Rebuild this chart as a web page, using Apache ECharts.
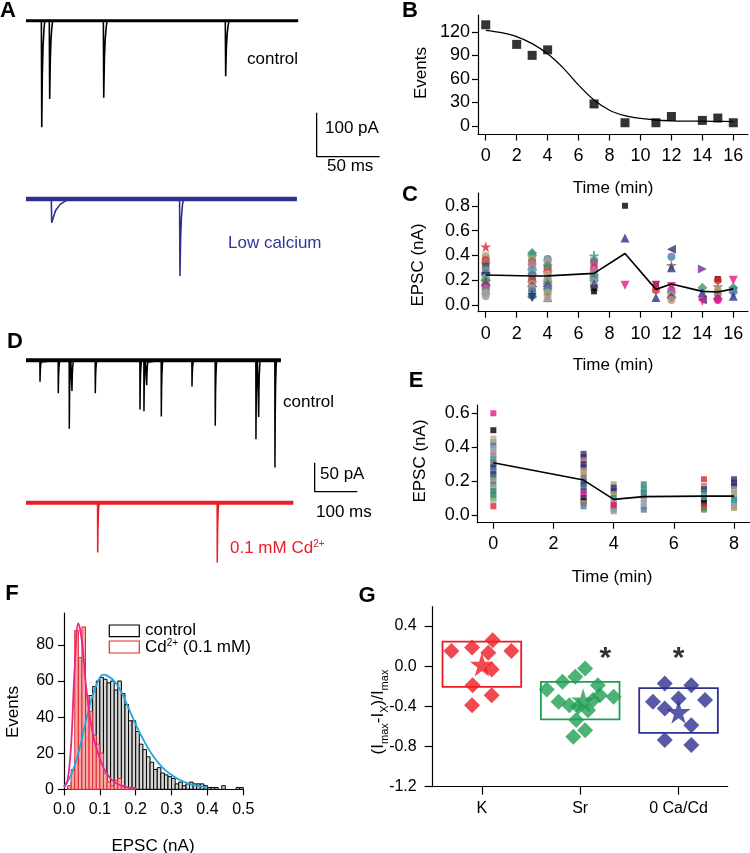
<!DOCTYPE html>
<html><head><meta charset="utf-8">
<script src="https://cdn.jsdelivr.net/npm/echarts@6/dist/echarts.min.js"></script>
<style>html,body{margin:0;padding:0;background:#fff}#c{width:750px;height:853px}</style>
</head><body><div id="c"></div><script>
// ================= DATA =================
// Panel A: spontaneous events (time ms, amplitude pA, decay ms)
const aControlTimes = [12.5, 18.8, 61.7, 158.5];
const aControlAmps = [242, 178, 175, 126];
const aControlDecays = [0.8, 0.8, 0.9, 0.9];
const aControlDuration = 216;
const aLowCaTimes = [20.4, 122.2];
const aLowCaAmps = [54, 175];
const aLowCaDecays = [5, 0.9];
const aLowCaDuration = 215;
const aScaleBar = [100, 50]; // pA, ms

// Panel D
const dControlTimes = [32.8, 75.6, 101.4, 107.7, 162.3, 267.0, 276.3, 282.7, 316.9, 388.8, 443.3, 538.6, 545.0, 583.1];
const dControlAmps = [37, 57, 118, 53, 57, 85, 88, 43, 97, 45, 113, 136, 98, 185];
const dControlDecays = [1.2, 1.2, 1.2, 1.2, 1.2, 1.2, 1.2, 1.2, 1.2, 1.2, 1.2, 1.2, 1.2, 1.2];
const dControlDuration = 597;
const dCdTimes = [167.9, 448.0];
const dCdAmps = [86, 103];
const dCdDecays = [1.2, 1.2];
const dCdDuration = 626;
const dScaleBar = [50, 100]; // pA, ms

// Panel B
const bTime = [0, 2, 3, 4, 7, 9, 11, 12, 14, 15, 16];
const bEvents = [129, 104, 90, 97, 28, 4, 4, 12, 7, 10, 4];
const bFitTime = [0, 1, 2, 3, 4, 5, 6, 7, 8, 9, 10, 11, 12, 13, 14, 15, 16];
const bFit = [122, 119, 114, 105, 92, 74, 52, 33, 20, 13, 9.5, 7.5, 6.5, 6, 6, 5.8, 5.5];
const bXTicks = [0, 2, 4, 6, 8, 10, 12, 14, 16];
const bYTicks = [0, 30, 60, 90, 120];

// Panel C (value nA, recorded cell id)
const cTimes = [0, 3, 4, 7, 9, 11, 12, 14, 15, 16];
const cValues = [
  [0.47,0.40,0.38,0.36,0.34,0.33,0.31,0.30,0.28,0.27,0.26,0.25,0.24,0.23,0.22,0.21,0.20,0.19,0.18,0.17,0.16,0.15,0.13,0.12,0.10,0.09,0.07],
  [0.42,0.40,0.37,0.35,0.33,0.31,0.29,0.28,0.26,0.25,0.24,0.22,0.21,0.20,0.18,0.17,0.15,0.14,0.12,0.11,0.09,0.07,0.06],
  [0.37,0.36,0.34,0.32,0.30,0.29,0.27,0.26,0.25,0.23,0.21,0.20,0.18,0.17,0.15,0.13,0.12,0.10,0.08,0.06,0.05],
  [0.40,0.36,0.34,0.30,0.28,0.26,0.24,0.22,0.20,0.19,0.17,0.15,0.13,0.11],
  [0.80,0.54,0.16],
  [0.17,0.16,0.12,0.06],
  [0.45,0.39,0.32,0.30,0.15,0.12,0.10,0.08,0.06,0.04],
  [0.29,0.14,0.10,0.04,0.03],
  [0.21,0.20,0.15,0.12,0.09,0.05,0.04],
  [0.20,0.14,0.12,0.10,0.07]
];
const cCells = [
  [15,13,1,3,7,20,12,6,25,22,8,2,19,4,0,21,10,5,14,26,24,9,23,6,1,21,0],
  [2,10,1,20,7,25,21,8,13,19,6,0,22,3,5,1,24,0,23,6,14,2,4],
  [6,21,1,19,26,20,7,3,13,22,25,0,5,10,24,8,6,1,23,14,13],
  [16,6,20,9,7,25,19,10,2,0,14,22,4,12],
  [12,14,17],
  [12,17,3,14],
  [18,6,5,14,17,9,19,1,24,23],
  [11,10,14,18,17],
  [12,3,5,1,20,24,9],
  [17,10,6,19,14]
];
const cMean = [0.242, 0.234, 0.235, 0.255, 0.415, 0.126, 0.169, 0.11, 0.105, 0.13];
const cYTicks = [0, 0.2, 0.4, 0.6, 0.8];

// Panel E
const eTimes = [0, 3, 4, 5, 7, 8];
const eValues = [
  [0.60,0.50,0.45,0.43,0.41,0.39,0.37,0.35,0.33,0.31,0.30,0.28,0.26,0.24,0.22,0.20,0.18,0.16,0.14,0.12,0.10,0.08,0.05],
  [0.36,0.34,0.32,0.30,0.28,0.26,0.24,0.22,0.20,0.18,0.16,0.14,0.12,0.10,0.08,0.07,0.05],
  [0.18,0.16,0.14,0.12,0.10,0.08,0.06,0.05,0.03,0.02],
  [0.18,0.15,0.13,0.11,0.09,0.07,0.05,0.03],
  [0.21,0.17,0.15,0.13,0.11,0.09,0.07,0.05,0.04,0.03],
  [0.21,0.19,0.17,0.15,0.13,0.11,0.09,0.07,0.05,0.04]
];
const eCells = [
  [9,12,13,1,6,0,21,25,8,20,19,4,6,4,2,23,6,1,2,2,10,13,3],
  [4,4,25,4,4,23,23,20,6,4,2,24,9,4,12,23,6],
  [23,4,4,1,2,0,9,3,6,0],
  [2,2,2,6,0,0,21,6],
  [3,25,4,2,0,2,12,3,3,10],
  [4,4,4,23,0,1,2,8,23,23]
];
const eMean = [0.308, 0.205, 0.091, 0.107, 0.11, 0.11];
const eXTicks = [0, 2, 4, 6, 8];
const eYTicks = [0, 0.2, 0.4, 0.6];

// Panel F: histograms, bin width 0.01 nA, bins start at 0
const fBinWidth = 0.01;
const fControlCounts = [0,1,4,12,30,44,50,52,57,60,62,61,59,60,55,60,53,47,38,38,32,25,22,18,15,11,12,9,8,7,6,3,4,2,3,4,3,3,3,2,1,1,1,0,2,0,0,0,1,1];
const fCdCounts = [0,2,11,88,73,90,52,43,30,25,20,9,4,2,5,6,2,1,1,1];
const fControlFitX = [0,0.02,0.04,0.06,0.08,0.10,0.11,0.12,0.14,0.16,0.18,0.20,0.22,0.24,0.26,0.28,0.30,0.32,0.35,0.40];
const fControlFitY = [1.5,8,20,37,52,62,63.5,63,60,54,45,36,28,21,15.5,11,8,5.5,3,1];
const fCdFitX = [0,0.01,0.02,0.03,0.04,0.05,0.06,0.07,0.08,0.09,0.10,0.11,0.12,0.13,0.14,0.16,0.18,0.20];
const fCdFitY = [1,5,25,68,92,82,60,43,31,23,17,12,8.5,6,4,2,1,0.5];
const fSeriesNames = ['control', 'Cd{sup|2+} (0.1 mM)'];
const fXTicks = [0, 0.1, 0.2, 0.3, 0.4, 0.5];
const fYTicks = [0, 20, 40, 60, 80];

// Panel G
const gGroups = ['K', 'Sr', '0 Ca/Cd'];
const gBoxTop = [0.245, -0.156, -0.219];
const gBoxBottom = [-0.206, -0.53, -0.664];
const gKOffset = [-0.31,-0.10,0.11,0.30,0.065,0.10,-0.094,0.10,-0.10];
const gKValue = [0.152,0.186,0.259,0.152,0.133,-0.033,-0.189,-0.289,-0.388];
const gSrOffset = [-0.34,-0.18,-0.05,0.05,-0.22,-0.11,0.18,0.20,0.34,0.08,-0.04,0.05,-0.07,0.13,-0.02];
const gSrValue = [-0.232,-0.156,-0.106,-0.023,-0.355,-0.388,-0.189,-0.289,-0.305,-0.438,-0.537,-0.637,-0.703,-0.338,-0.405];
const gCdOffset = [-0.14,0.13,-0.26,-0.14,0,0.27,0.13,-0.14,0.13];
const gCdValue = [-0.172,-0.189,-0.355,-0.421,-0.322,-0.338,-0.587,-0.736,-0.786];
const gMean = [0.017, -0.34, -0.455];
const gSignificant = [false, true, true];
const gYTicks = [-1.2, -0.8, -0.4, 0, 0.4];

// ================= STYLE =================
const FF = '"Liberation Sans", Arial, Helvetica, sans-serif';
const STAR = 'path://M50,0 L61,35 L98,35 L68,57 L79,91 L50,70 L21,91 L32,57 L2,35 L39,35 Z';
const PLUS = 'path://M4,0h2v4h4v2h-4v4h-2v-4h-4v-2h4z';
const SYM = {
  circle:{symbol:'circle', size:8, rot:0}, diamond:{symbol:'diamond', size:10, rot:0},
  triangle:{symbol:'triangle', size:9, rot:0}, down:{symbol:'triangle', size:9, rot:180},
  left:{symbol:'triangle', size:9, rot:90}, right:{symbol:'triangle', size:9, rot:-90},
  rect:{symbol:'rect', size:6, rot:0}, star:{symbol:STAR, size:11, rot:0}, plus:{symbol:PLUS, size:9, rot:0}
};
const cellStyles = [
 ['#9d9da6','circle'],['#a9a474','circle'],['#2b8a7c','diamond'],['#e3232b','circle'],
 ['#30306e','down'],['#8b6d4f','star'],['#4e7ba0','circle'],['#c37487','diamond'],
 ['#29a3c4','diamond'],['#e4178a','circle'],['#3d9b5e','diamond'],['#7b2a8c','right'],
 ['#000000','rect'],['#b4b296','circle'],['#2e3192','triangle'],['#e3232b','star'],
 ['#2b9a8c','plus'],['#e4178a','down'],['#30306e','left'],['#5f86a8','diamond'],
 ['#8b6d4f','circle'],['#9d9da6','diamond'],['#a9a474','triangle'],['#b09a76','circle'],
 ['#7b2a8c','diamond'],['#c37487','circle'],['#3d9b5e','circle'],['#000000','triangle']
];
const BLUE = '#2e3192', RED = '#ec1c24', GREEN = '#1f9f52';

// layout constants
const A_OFFSET = -405, D_OFFSET = -245.6;
const A_BAR = [230.7, -209.1], D_BAR = [676.1, -176.7];
const G_SIG_SHIFT = [0, 0.255, 0], G_SIG_Y = 0.16, G_BOX_W = 0.8, G_STAR_SHIFT = [0, 0.03, 0];

// ================= BUILD =================
function trace(times, amps, decays, duration, off) {
  const pts = [[0, off]];
  times.forEach((t, i) => {
    const a = amps[i], d = decays[i];
    pts.push([t - 0.3, off], [t, off - a], [t + 0.6 * d, off - 0.5 * a],
             [t + 1.3 * d, off - 0.24 * a], [t + 2.2 * d, off - 0.08 * a], [t + 3 * d, off]);
  });
  pts.push([duration, off]);
  return pts;
}
function lineS(idx, data, color, width, extra) {
  return Object.assign({type:'line', xAxisIndex:idx, yAxisIndex:idx, data, symbol:'none',
    silent:true, animation:false, lineStyle:{color, width}, z:2}, extra || {});
}
function ax(idx, o) {
  const base = {
    gridIndex: idx, type:'value',
    axisLine:{show:true, onZero:false, lineStyle:{color:'#000', width:1.2}},
    axisTick:{show:true, length:6, lineStyle:{color:'#000', width:1.2}},
    axisLabel:{color:'#000', fontFamily:FF, fontSize:18},
    splitLine:{show:false}
  };
  const r = Object.assign({}, base, o);
  r.axisTick = Object.assign({}, base.axisTick, o.axisTick || {});
  r.axisLabel = Object.assign({}, base.axisLabel, o.axisLabel || {});
  return r;
}
const f1 = v => v.toFixed(1);

const grids = [
  {left:26, top:10, width:354, height:280},
  {left:26, top:340, width:331.3, height:240},
  {left:478, top:15, width:270, height:119.5},
  {left:478, top:193, width:270, height:118.7},
  {left:477.7, top:405, width:272, height:117.7},
  {left:64, top:613, width:179.3, height:176.3},
  {left:432.7, top:606.7, width:295, height:180}
].map(g => Object.assign({outerBoundsMode:'none', containLabel:false}, g));

const xAxes = [
  {gridIndex:0, type:'value', min:0, max:281, show:false},
  {gridIndex:1, type:'value', min:0, max:776, show:false},
  ax(2, {min:-0.5, max:16.95, axisTick:{customValues:bXTicks}, axisLabel:{customValues:bXTicks, margin:13}}),
  ax(3, {min:-0.5, max:16.95, axisTick:{customValues:bXTicks}, axisLabel:{customValues:bXTicks, margin:13}}),
  ax(4, {min:-0.52, max:8.52, axisTick:{customValues:eXTicks}, axisLabel:{customValues:eXTicks, margin:12}}),
  ax(5, {min:0, max:0.5, axisTick:{customValues:fXTicks}, axisLabel:{customValues:fXTicks, formatter:f1, fontSize:16, margin:12}}),
  ax(6, {min:-0.5, max:2.5, axisTick:{customValues:[0,1,2], length:8}, axisLabel:{customValues:[0,1,2], formatter:v => gGroups[Math.round(v)], fontSize:16, margin:14}})
];
const yAxes = [
  {gridIndex:0, type:'value', min:-612, max:24.3, show:false},
  {gridIndex:1, type:'value', min:-379, max:35, show:false},
  ax(2, {min:-11, max:141.5, axisTick:{customValues:bYTicks}, axisLabel:{customValues:bYTicks, margin:8}}),
  ax(3, {min:-0.054, max:0.903, axisTick:{customValues:cYTicks}, axisLabel:{customValues:cYTicks, formatter:f1, margin:8}}),
  ax(4, {min:-0.047, max:0.649, axisTick:{customValues:eYTicks}, axisLabel:{customValues:eYTicks, formatter:f1, margin:8}}),
  ax(5, {min:0, max:97.7, axisTick:{customValues:fYTicks}, axisLabel:{customValues:fYTicks, fontSize:16, margin:10}}),
  ax(6, {min:-1.2, max:0.592, axisTick:{customValues:gYTicks, length:8}, axisLabel:{customValues:gYTicks, formatter:f1, fontSize:16, margin:16}})
];

const series = [];
// ---- A ----
series.push(lineS(0, trace(aControlTimes, aControlAmps, aControlDecays, aControlDuration, 0), '#000', 1.6));
series.push(lineS(0, [[0,0],[aControlDuration,0]], '#000', 3));
series.push(lineS(0, trace(aLowCaTimes, aLowCaAmps, aLowCaDecays, aLowCaDuration, A_OFFSET), BLUE, 1.6));
series.push(lineS(0, [[0,A_OFFSET],[aLowCaDuration,A_OFFSET]], BLUE, 4.5));
series.push(lineS(0, [[A_BAR[0], A_BAR[1]], [A_BAR[0], A_BAR[1] - aScaleBar[0]], [A_BAR[0] + aScaleBar[1], A_BAR[1] - aScaleBar[0]]], '#000', 1.3));
// ---- D ----
series.push(lineS(1, trace(dControlTimes, dControlAmps, dControlDecays, dControlDuration, 0), '#000', 1.5));
series.push(lineS(1, [[0,0],[dControlDuration,0]], '#000', 4));
series.push(lineS(1, trace(dCdTimes, dCdAmps, dCdDecays, dCdDuration, D_OFFSET), RED, 1.5));
series.push(lineS(1, [[0,D_OFFSET],[dCdDuration,D_OFFSET]], RED, 4));
series.push(lineS(1, [[D_BAR[0], D_BAR[1]], [D_BAR[0], D_BAR[1] - dScaleBar[0]], [D_BAR[0] + dScaleBar[1], D_BAR[1] - dScaleBar[0]]], '#000', 1.3));
// ---- B ----
series.push(lineS(2, bFitTime.map((t,i) => [t, bFit[i]]), '#000', 1.3, {smooth:0.35}));
series.push({type:'scatter', xAxisIndex:2, yAxisIndex:2, symbol:'rect', symbolSize:9,
  itemStyle:{color:'#000'}, data:bTime.map((t,i) => [t, bEvents[i]]), z:3, silent:true});
// ---- C ----
function cellItems(times, values, cells, forceRect) {
  const out = [];
  times.forEach((t, i) => values[i].forEach((v, j) => {
    const st = cellStyles[cells[i][j]];
    const s = forceRect ? {symbol:'rect', size:6, rot:0} : SYM[st[1]];
    out.push({value:[t, v], symbol:s.symbol, symbolSize:s.size, symbolRotate:s.rot, itemStyle:{color:st[0]}});
  }));
  return out;
}
series.push({type:'scatter', xAxisIndex:3, yAxisIndex:3, data:cellItems(cTimes, cValues, cCells, false), z:2, silent:true});
series.push(lineS(3, cTimes.map((t,i) => [t, cMean[i]]), '#000', 1.6, {z:4}));
// ---- E ----
series.push({type:'scatter', xAxisIndex:4, yAxisIndex:4, data:cellItems(eTimes, eValues, eCells, true), z:2, silent:true});
series.push(lineS(4, eTimes.map((t,i) => [t, eMean[i]]), '#000', 1.6, {z:4}));
// ---- F ----
function histSeries(counts, fill, stroke, z) {
  return {type:'custom', xAxisIndex:5, yAxisIndex:5, z, silent:true,
    data: counts.map((c, i) => [i * fBinWidth, c]),
    renderItem: (params, api) => {
      const x0 = api.value(0), c = api.value(1);
      if (!c) return null;
      const p1 = api.coord([x0, c]), p2 = api.coord([x0 + fBinWidth, 0]);
      return {type:'rect', shape:{x:p1[0], y:p1[1], width:p2[0]-p1[0], height:p2[1]-p1[1]},
        style:{fill, stroke, lineWidth:1}};
    }};
}
series.push(histSeries(fControlCounts, '#d6d6d6', '#000', 2));
series.push(histSeries(fCdCounts, '#f6a9a9', '#e8262a', 3));
series.push(lineS(5, fControlFitX.map((x,i) => [x, fControlFitY[i]]), '#22a7df', 1.8, {smooth:0.4, z:5}));
series.push(lineS(5, fCdFitX.map((x,i) => [x, fCdFitY[i]]), '#e6268c', 1.8, {smooth:0.4, z:6}));
// ---- G ----
series.push({type:'custom', xAxisIndex:6, yAxisIndex:6, z:2, silent:true,
  data: gGroups.map((g,i) => [i, gBoxTop[i], gBoxBottom[i]]),
  renderItem: (params, api) => {
    const i = api.value(0);
    const p1 = api.coord([i - G_BOX_W/2, api.value(1)]), p2 = api.coord([i + G_BOX_W/2, api.value(2)]);
    const col = [RED, GREEN, BLUE][i];
    return {type:'rect', shape:{x:p1[0], y:p1[1], width:p2[0]-p1[0], height:p2[1]-p1[1]},
      style:{fill:'none', stroke:col, lineWidth:1.8}};
  }});
[[gKOffset, gKValue, RED], [gSrOffset, gSrValue, GREEN], [gCdOffset, gCdValue, BLUE]].forEach((grp, gi) => {
  series.push({type:'scatter', xAxisIndex:6, yAxisIndex:6, symbol:'diamond', symbolSize:16, z:3, silent:true,
    itemStyle:{color:grp[2]}, data:grp[0].map((o,k) => [gi + o, grp[1][k]])});
  series.push({type:'scatter', xAxisIndex:6, yAxisIndex:6, symbol:STAR, symbolSize:24, z:4, silent:true,
    itemStyle:{color:grp[2]}, data:[[gi + G_STAR_SHIFT[gi], gMean[gi]]]});
});
series.push({type:'scatter', xAxisIndex:6, yAxisIndex:6, symbol:'circle', symbolSize:2, z:5, silent:true,
  itemStyle:{color:'rgba(0,0,0,0)'},
  label:{show:true, position:'inside', formatter:'*', fontSize:30, fontWeight:'bold', fontFamily:FF, color:'#000', offset:[0, 9]},
  data: gGroups.map((g,i) => gSignificant[i] ? [i + G_SIG_SHIFT[i], G_SIG_Y] : null).filter(d => d)});

// ---- text ----
function T(x, y, text, o) {
  o = o || {};
  const st = {text, fill:o.color || '#000', fontSize:o.size || 17, fontFamily:FF,
    fontWeight:o.weight || 'normal', textAlign:o.align || 'left', textVerticalAlign:'middle'};
  if (o.rich) st.rich = o.rich;
  return {type:'text', x, y, rotation:o.rot || 0, silent:true, z:100, style:st};
}
const R90 = Math.PI / 2;
const graphic = [
  T(8, 11, 'A', {size:22, weight:'bold', align:'center'}),
  T(410, 11, 'B', {size:22, weight:'bold', align:'center'}),
  T(410, 195, 'C', {size:22, weight:'bold', align:'center'}),
  T(15, 342, 'D', {size:22, weight:'bold', align:'center'}),
  T(416, 381, 'E', {size:22, weight:'bold', align:'center'}),
  T(12, 594, 'F', {size:22, weight:'bold', align:'center'}),
  T(367, 596, 'G', {size:22, weight:'bold', align:'center'}),
  T(247, 59, 'control'),
  T(325, 128, aScaleBar[0] + ' pA'),
  T(327, 166, aScaleBar[1] + ' ms'),
  T(228, 243, 'Low calcium', {color:'#34359a'}),
  T(283, 402, 'control'),
  T(320, 474, dScaleBar[0] + ' pA'),
  T(316, 512, dScaleBar[1] + ' ms'),
  T(230, 548, '0.1 mM Cd{sup|2+}', {color:RED, rich:{sup:{fontSize:10, verticalAlign:'top', fontFamily:FF, fill:RED}}}),
  T(613, 188, 'Time (min)', {align:'center'}),
  T(421.7, 73, 'Events', {align:'center', rot:R90}),
  T(613, 365, 'Time (min)', {align:'center'}),
  T(418.3, 265, 'EPSC (nA)', {align:'center', rot:R90}),
  T(612, 577, 'Time (min)', {align:'center'}),
  T(420, 461, 'EPSC (nA)', {align:'center', rot:R90}),
  T(153, 846, 'EPSC (nA)', {align:'center'}),
  T(13, 712, 'Events', {align:'center', rot:R90}),
  T(378, 712, '{n|(I}{s|max}{n|-I}{s|X}{n|)/I}{s|max}', {align:'center', rot:R90,
    rich:{n:{fontSize:17, fontFamily:FF, verticalAlign:'middle', lineHeight:24},
          s:{fontSize:11, fontFamily:FF, verticalAlign:'bottom', lineHeight:24}}}),
  {type:'rect', shape:{x:109.3, y:625, width:30, height:11.7}, style:{fill:'#fff', stroke:'#000', lineWidth:1.2}, z:100, silent:true},
  T(145, 630, fSeriesNames[0]),
  {type:'rect', shape:{x:109.3, y:641, width:30, height:12}, style:{fill:'#fff', stroke:'#e8262a', lineWidth:1.2}, z:100, silent:true},
  T(145, 647, fSeriesNames[1], {rich:{sup:{fontSize:10, verticalAlign:'top', fontFamily:FF}}})
];

const chart = echarts.init(document.getElementById('c'), null, {renderer:'canvas', width:750, height:853});
chart.setOption({animation:false, backgroundColor:'#fff', textStyle:{fontFamily:FF},
  grid:grids, xAxis:xAxes, yAxis:yAxes, series, graphic});
</script></body></html>
